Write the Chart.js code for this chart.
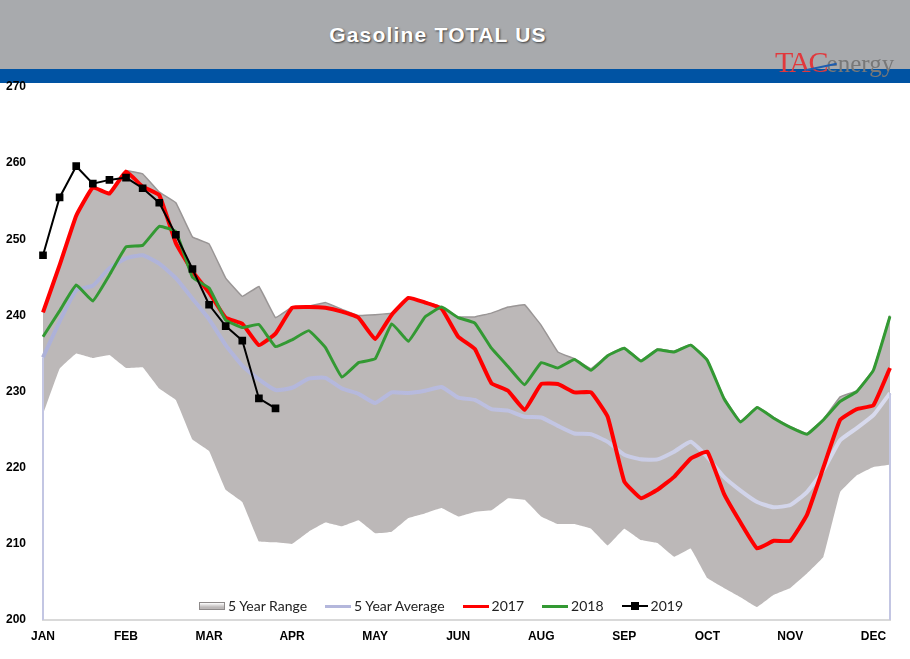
<!DOCTYPE html>
<html>
<head>
<meta charset="utf-8">
<script src="https://cdn.jsdelivr.net/npm/chart.js@4.4.1/dist/chart.umd.min.js"></script>
<style>
  html, body { margin: 0; padding: 0; background: #fff; }
  #wrap { position: relative; width: 910px; height: 659px; overflow: hidden; }
  #chart { position: absolute; left: 0; top: 0; z-index: 2; }
  #header { position: absolute; left: 0; top: 0; width: 910px; height: 69px; background: #a8aaad; }
  #band { position: absolute; left: 0; top: 69px; width: 910px; height: 14px; background: #0053a3; }
  #title {
    position: absolute; left: 0; top: 23px; width: 876px; text-align: center;
    font: bold 21px "Liberation Sans", Arial, sans-serif; letter-spacing: 1.2px;
    color: #fff; text-shadow: 1px 1px 2px rgba(0,0,0,0.65);
  }
  #logo { position: absolute; left: 775px; top: 45px; font-family: "Liberation Serif", "DejaVu Serif", serif; white-space: nowrap; z-index: 3; }
  #logo .tac { color: #e2383c; font-size: 30px; letter-spacing: -2px; }
  #logo .en { color: #787878; font-size: 25px; }
  #logo .swoosh { position: absolute; left: 30px; top: 21px; width: 32px; height: 2px; background: #1d5db0; transform: rotate(-12deg); }
  #legend {
    position: absolute; left: 199px; top: 597px; display: flex; align-items: center; z-index: 3;
    font: 14px "Lato", "Open Sans", sans-serif; color: #222;
  }
  #legend .item { display: flex; align-items: center; margin-right: 18px; }
  #legend .ico { width: 26px; height: 12px; position: relative; margin-right: 3px; }
  #legend .ico .ln { position: absolute; left: 0; right: 0; top: 5px; height: 3px; }
  #legend .ico .box { position: absolute; left: 0; right: 0; top: 2px; height: 8px;
    background: linear-gradient(#ffffff, #bcb8b8 70%); border: 1px solid #8e8a8a; box-sizing: border-box; }
  #legend .ico .sq { position: absolute; left: 9px; top: 2px; width: 8px; height: 8px; background: #000; }
</style>
</head>
<body>
<div id="wrap">
  <canvas id="chart" width="910" height="659"></canvas>
  <div id="header"><div id="title">Gasoline TOTAL US</div></div>
  <div id="band"></div>
  <div id="logo"><span class="tac">TAC</span><span class="en">energy</span><span class="swoosh"></span></div>
  <div id="legend">
    <div class="item"><div class="ico"><div class="box"></div></div>5 Year Range</div>
    <div class="item"><div class="ico"><div class="ln" style="background:#b4b7dc"></div></div>5 Year Average</div>
    <div class="item"><div class="ico"><div class="ln" style="background:#ff0000"></div></div>2017</div>
    <div class="item"><div class="ico"><div class="ln" style="background:#339933"></div></div>2018</div>
    <div class="item"><div class="ico"><div class="ln" style="background:#000;height:2px"></div><div class="sq"></div></div>2019</div>
  </div>
</div>
<script>
// weekly categories (every 5th one is shown on the axis)
const weekLabels = [
  'JAN','JAN','JAN','JAN','FEB','FEB','FEB','FEB','MAR','MAR','MAR','MAR','MAR',
  'APR','APR','APR','APR','MAY','MAY','MAY','MAY','JUN','JUN','JUN','JUN','JUN',
  'JUL','JUL','JUL','JUL','AUG','AUG','AUG','AUG','SEP','SEP','SEP','SEP','SEP',
  'OCT','OCT','OCT','OCT','NOV','NOV','NOV','NOV','DEC','DEC','DEC','DEC','DEC'
];

const rangeLow = [
  227.0, 233.0, 235.0, 234.4, 234.8, 233.1, 233.2, 230.4, 228.9, 223.7, 222.2, 217.1, 215.5,
  210.3, 210.2, 210.0, 211.6, 212.8, 212.3, 213.1, 211.4, 211.6, 213.4, 214.0, 214.7, 213.6,
  214.2, 214.4, 216.0, 215.8, 213.6, 212.6, 212.6, 212.0, 209.8, 212.0, 210.5, 210.1, 208.3,
  209.4, 205.5, 204.2, 203.0, 201.7, 203.3, 204.2, 206.1, 208.3, 216.8, 219.0, 220.1, 220.4
];
const rangeHigh = [
  240.4, 246.6, 253.1, 256.8, 256.1, 259.0, 258.6, 256.2, 254.8, 250.3, 249.4, 244.9, 242.5,
  243.8, 239.7, 241.1, 241.2, 241.7, 240.8, 240.0, 240.1, 240.3, 242.3, 241.8, 241.1, 239.8,
  239.8, 240.3, 241.1, 241.4, 238.7, 235.2, 234.3, 233.0, 234.8, 235.8, 234.1, 235.6, 235.3,
  236.2, 234.2, 229.2, 226.1, 228.0, 226.6, 225.4, 224.5, 226.4, 229.3, 230.1, 232.9, 240.0
];
const avg5 = [
  234.5, 239.2, 243.3, 243.9, 246.2, 247.5, 247.9, 246.8, 244.9, 242.2, 239.5, 236.1, 233.4,
  231.6, 230.2, 230.5, 231.7, 231.8, 230.4, 229.7, 228.5, 229.9, 229.8, 230.1, 230.6, 229.2,
  228.9, 227.7, 227.5, 226.7, 226.6, 225.5, 224.5, 224.4, 223.4, 221.7, 221.1, 221.1, 222.1,
  223.4, 221.4, 218.8, 217.0, 215.5, 214.8, 215.1, 216.8, 219.7, 223.6, 225.2, 226.9, 229.8
];
const y2017 = [
  240.4, 246.6, 253.1, 256.8, 256.0, 258.9, 256.9, 255.8, 249.5, 245.8, 243.0, 239.7, 238.9,
  236.1, 237.6, 241.0, 241.1, 241.0, 240.5, 239.7, 236.9, 240.1, 242.3, 241.7, 240.9, 237.2,
  235.6, 231.1, 230.1, 227.6, 231.0, 231.0, 229.9, 229.9, 226.7, 218.2, 216.0, 217.1, 218.8,
  221.2, 222.1, 216.6, 212.8, 209.4, 210.4, 210.4, 213.8, 220.1, 226.3, 227.7, 228.2, 233.1
];
const y2018 = [
  237.2, 240.6, 244.0, 241.9, 245.3, 249.0, 249.2, 251.7, 251.0, 245.0, 243.6, 239.4, 238.4,
  238.8, 235.9, 236.8, 238.0, 235.8, 231.9, 233.8, 234.3, 238.9, 236.6, 239.8, 241.1, 239.7,
  239.0, 235.7, 233.3, 230.9, 233.8, 233.1, 234.2, 232.8, 234.7, 235.7, 234.0, 235.5, 235.2,
  236.1, 234.1, 229.1, 226.0, 227.9, 226.5, 225.3, 224.4, 226.3, 228.7, 230.0, 232.8, 239.9
];
const y2019 = [
  247.9, 255.5, 259.6, 257.3, 257.8, 258.1, 256.7, 254.8, 250.6, 246.1, 241.4, 238.6, 236.7,
  229.1, 227.8
];

const yMin = 200, yMax = 270, yStep = 10;

// average line fades lighter towards the end of the year
function avgColor(c) {
  const { ctx, chartArea } = c.chart;
  if (!chartArea) return '#b4b7dc';
  const g = ctx.createLinearGradient(chartArea.left, 0, chartArea.right, 0);
  g.addColorStop(0, '#adb1d8');
  g.addColorStop(0.45, '#b7bade');
  g.addColorStop(0.75, '#cdd0e8');
  g.addColorStop(1, '#d9dbee');
  return g;
}

// thin lavender edges of the average series down to the axis, as in the original
const avgEdges = {
  id: 'avgEdges',
  afterDatasetsDraw(chart) {
    const { ctx, scales: { x, y } } = chart;
    ctx.save();
    ctx.strokeStyle = '#c3c6e3';
    ctx.lineWidth = 2;
    [0, avg5.length - 1].forEach(i => {
      const px = x.getPixelForValue(i);
      ctx.beginPath();
      ctx.moveTo(px, y.getPixelForValue(avg5[i]));
      ctx.lineTo(px, y.getPixelForValue(yMin));
      ctx.stroke();
    });
    ctx.restore();
  }
};

const ctx = document.getElementById('chart').getContext('2d');
new Chart(ctx, {
  type: 'line',
  data: {
    labels: weekLabels,
    datasets: [
      {
        label: '2019', data: y2019,
        borderColor: '#000', backgroundColor: '#000', borderWidth: 2,
        pointStyle: 'rect', pointRadius: 4, pointBackgroundColor: '#000', tension: 0
      },
      {
        label: '2018', data: y2018,
        borderColor: '#339933', borderWidth: 3, pointRadius: 0, tension: 0.1
      },
      {
        label: '2017', data: y2017,
        borderColor: '#ff0000', borderWidth: 4, pointRadius: 0, tension: 0.1
      },
      {
        label: '5 Year Average', data: avg5,
        borderColor: avgColor, borderWidth: 4, pointRadius: 0, tension: 0.15
      },
      {
        label: '5 Year Range', data: rangeHigh,
        borderColor: '#9a9696', borderWidth: 1.5, pointRadius: 0, tension: 0.05,
        backgroundColor: '#bcb8b8', fill: '+1'
      },
      {
        label: 'range low', data: rangeLow,
        borderColor: 'rgba(0,0,0,0)', borderWidth: 0, pointRadius: 0, tension: 0.05, fill: false
      }
    ]
  },
  options: {
    responsive: false,
    animation: false,
    layout: { padding: { top: 87, right: 20, left: 0, bottom: 0 } },
    plugins: {
      legend: { display: false },
      tooltip: { enabled: false }
    },
    scales: {
      x: {
        grid: { display: false, drawTicks: false },
        border: { display: true, color: '#d9d9d9', width: 2 },
        afterFit(scale) { scale.height = 39; },
        ticks: {
          autoSkip: false, maxRotation: 0, padding: 9, color: '#000',
          font: { family: 'Liberation Sans', size: 12, weight: 'bold' },
          callback(value, index) { return index % 5 === 0 ? weekLabels[index] : ''; }
        }
      },
      y: {
        min: yMin, max: yMax,
        grid: { display: false, drawTicks: false },
        border: { display: false },
        afterFit(scale) { scale.width = 43; },
        ticks: {
          stepSize: yStep, padding: 17, color: '#000',
          font: { family: 'Liberation Sans', size: 12, weight: 'bold' }
        }
      }
    }
  },
  plugins: [avgEdges]
});
</script>
</body>
</html>
